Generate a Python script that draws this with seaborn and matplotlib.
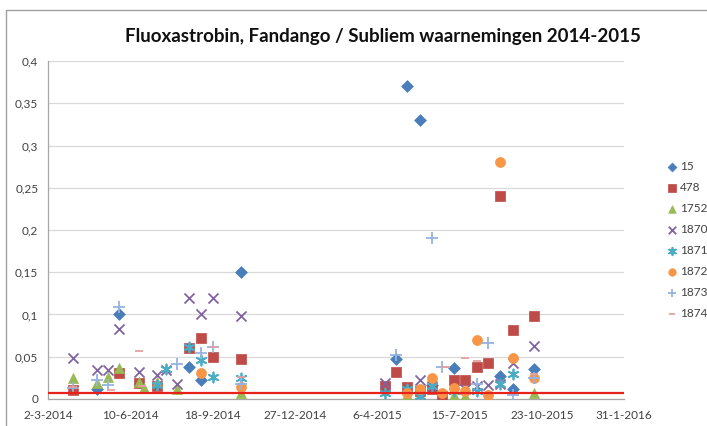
import pandas as pd
import matplotlib.pyplot as plt
import matplotlib.dates as mdates
from matplotlib.ticker import FuncFormatter, FixedLocator, MultipleLocator
from matplotlib.lines import Line2D
import seaborn as sns

sns.set_style('white')
plt.rcParams['font.family'] = ['Lato', 'DejaVu Sans']

# observations per monitoring location (date, concentration)
dates_15 = ['2014-05-01', '2014-05-27', '2014-08-20', '2014-09-04', '2014-10-22', '2015-04-29', '2015-05-12',
            '2015-05-28', '2015-06-11', '2015-07-08', '2015-09-02', '2015-09-18', '2015-10-14']
vals_15 = [0.012, 0.100, 0.038, 0.022, 0.150, 0.047, 0.370, 0.330, 0.017, 0.037, 0.027, 0.012, 0.035]

dates_478 = ['2014-04-01', '2014-05-27', '2014-06-20', '2014-07-12', '2014-08-20', '2014-09-04', '2014-09-18',
             '2014-10-22', '2015-04-15', '2015-04-29', '2015-05-12', '2015-05-28', '2015-06-11', '2015-06-24',
             '2015-07-08', '2015-07-22', '2015-08-05', '2015-08-19', '2015-09-02', '2015-09-18', '2015-10-14']
vals_478 = [0.011, 0.031, 0.019, 0.015, 0.060, 0.072, 0.050, 0.047, 0.015, 0.032, 0.014, 0.010, 0.012, 0.003,
            0.023, 0.022, 0.038, 0.043, 0.240, 0.082, 0.098]

dates_1752 = ['2014-04-01', '2014-05-01', '2014-05-14', '2014-05-27', '2014-06-20', '2014-06-26', '2014-07-12',
              '2014-08-06', '2014-10-22', '2015-05-12', '2015-07-08', '2015-07-22', '2015-10-14']
vals_1752 = [0.025, 0.019, 0.026, 0.037, 0.020, 0.013, 0.020, 0.012, 0.007, 0.005, 0.005, 0.004, 0.007]

dates_1870 = ['2014-04-01', '2014-05-01', '2014-05-14', '2014-05-27', '2014-06-20', '2014-07-12', '2014-07-23',
              '2014-08-06', '2014-08-20', '2014-09-04', '2014-09-18', '2014-10-22', '2015-04-15', '2015-05-28',
              '2015-06-11', '2015-07-22', '2015-08-05', '2015-08-19', '2015-09-02', '2015-09-18', '2015-10-14']
vals_1870 = [0.049, 0.034, 0.034, 0.083, 0.032, 0.028, 0.034, 0.018, 0.119, 0.100, 0.119, 0.098, 0.019, 0.022,
             0.015, 0.012, 0.015, 0.016, 0.018, 0.043, 0.063]

dates_1871 = ['2014-07-12', '2014-07-23', '2014-08-20', '2014-09-04', '2014-09-18', '2014-10-22', '2015-04-15',
              '2015-05-12', '2015-05-28', '2015-06-11', '2015-07-08', '2015-08-05', '2015-09-02', '2015-09-18']
vals_1871 = [0.016, 0.036, 0.062, 0.046, 0.026, 0.025, 0.007, 0.012, 0.004, 0.015, 0.010, 0.010, 0.018, 0.030]

dates_1872 = ['2014-09-04', '2014-10-22', '2015-05-12', '2015-05-28', '2015-06-11', '2015-06-24', '2015-07-08',
              '2015-07-22', '2015-08-05', '2015-08-19', '2015-09-02', '2015-09-18', '2015-10-14']
vals_1872 = [0.031, 0.014, 0.007, 0.012, 0.025, 0.007, 0.013, 0.009, 0.070, 0.005, 0.280, 0.049, 0.025]

dates_1873 = ['2014-04-01', '2014-05-01', '2014-05-14', '2014-05-27', '2014-08-06', '2014-09-04', '2014-09-18',
              '2014-10-22', '2015-04-29', '2015-06-11', '2015-06-24', '2015-08-05', '2015-08-19', '2015-09-18',
              '2015-10-14']
vals_1873 = [0.013, 0.022, 0.017, 0.109, 0.041, 0.054, 0.061, 0.018, 0.052, 0.191, 0.038, 0.018, 0.066, 0.005,
             0.025]

dates_1874 = ['2014-04-01', '2014-05-17', '2014-06-20', '2014-06-24', '2014-09-18', '2014-10-22', '2015-06-28',
              '2015-07-22', '2015-08-05', '2015-10-14']
vals_1874 = [0.014, 0.011, 0.057, 0.015, 0.062, 0.026, 0.038, 0.048, 0.045, 0.030]

limit_value = 0.0075  # horizontal red line

series = [
    ('15', dates_15, vals_15, 'D', '#4A7EBB', 36),
    ('478', dates_478, vals_478, 's', '#BE4B48', 48),
    ('1752', dates_1752, vals_1752, '^', '#98B954', 52),
    ('1870', dates_1870, vals_1870, 'x', '#8064A2', 52),
    ('1871', dates_1871, vals_1871, (6, 2, 0), '#4BACC6', 52),
    ('1872', dates_1872, vals_1872, 'o', '#F79646', 52),
    ('1873', dates_1873, vals_1873, '+', '#95B3E0', 66),
    ('1874', dates_1874, vals_1874, '_', '#E6A0A0', 30),
]

fig = plt.figure(figsize=(7.07, 4.26), dpi=100)
ax = fig.add_axes([0.068, 0.0634, 0.8147, 0.7934])

for name, d, v, marker, color, size in series:
    df = pd.DataFrame({'date': pd.to_datetime(d), 'value': v})
    if marker in ('D', 's', '^', 'o'):
        sns.scatterplot(data=df, x='date', y='value', marker=marker, color=color, s=size,
                        edgecolor=color, linewidth=0.5, ax=ax, label=name, zorder=3)
    else:
        sns.scatterplot(data=df, x='date', y='value', marker=marker, color=color, s=size,
                        linewidth=1.3, ax=ax, label=name, zorder=3)

ax.axhline(limit_value, color='#E8211B', linewidth=1.6, zorder=4)

start = pd.Timestamp('2014-03-02')
end = pd.Timestamp('2016-01-31')
ax.set_xlim(start, end)
ax.set_ylim(0, 0.4)
ax.xaxis.set_major_locator(FixedLocator(mdates.date2num(pd.date_range(start, end, freq='100D'))))
ax.xaxis.set_major_formatter(FuncFormatter(
    lambda x, pos: '{0.day}-{0.month}-{0.year}'.format(mdates.num2date(x))))
ax.yaxis.set_major_locator(MultipleLocator(0.05))
ax.yaxis.set_major_formatter(FuncFormatter(lambda v, pos: '{:g}'.format(round(v, 2)).replace('.', ',')))

ax.grid(axis='y', color='#D9D9D9', linewidth=0.9)
ax.grid(axis='x', visible=False)
for side in ['top', 'right']:
    ax.spines[side].set_visible(False)
for side in ['left', 'bottom']:
    ax.spines[side].set_color('#A6A6A6')
    ax.spines[side].set_linewidth(0.9)
ax.tick_params(axis='both', labelsize=8.5, labelcolor='#404040', color='#A6A6A6', length=4, width=0.9)
ax.tick_params(axis='y', direction='out', pad=3)
ax.tick_params(axis='x', direction='out', pad=4)
ax.set_xlabel('')
ax.set_ylabel('')

ax.legend(loc='center left', bbox_to_anchor=(0.935, 0.437), bbox_transform=fig.transFigure,
          frameon=False, fontsize=8.5, handlelength=0.8, handletextpad=0.3, labelspacing=0.85,
          borderpad=0, labelcolor='#404040', markerscale=0.75)

fig.text(0.542, 0.915, 'Fluoxastrobin, Fandango / Subliem waarnemingen 2014-2015',
         ha='center', va='center', fontsize=13.5, fontweight='bold', color='#101010')

# chart area border
fig.add_artist(Line2D([6 / 707, 1], [1 - 10 / 426, 1 - 10 / 426], color='#A0A0A0', linewidth=1))
fig.add_artist(Line2D([6 / 707, 6 / 707], [0, 1 - 10 / 426], color='#A0A0A0', linewidth=1))

plt.savefig('out.png', dpi=100)
